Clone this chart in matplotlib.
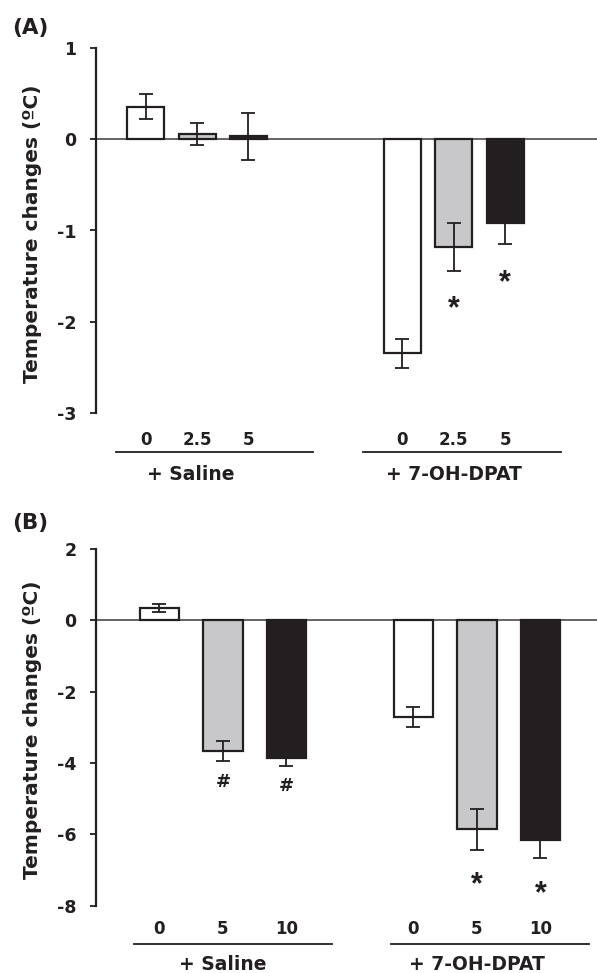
import matplotlib
matplotlib.use('Agg')
import matplotlib.pyplot as plt
from matplotlib import transforms

plt.rcParams['font.family'] = ['DejaVu Sans']
plt.rcParams['font.weight'] = 'bold'
plt.rcParams['axes.unicode_minus'] = False

# ---------------- data ----------------
groups = ['+ Saline', '+ 7-OH-DPAT']

a_pos = [0, 1, 2, 5, 6, 7]
a_labels = ['0', '2.5', '5', '0', '2.5', '5']
a_vals = [0.36, 0.055, 0.035, -2.35, -1.18, -0.92]
a_err = [0.14, 0.12, 0.26, 0.16, 0.26, 0.23]
a_marks = ['', '', '', '', '*', '*']
a_yticks = [1, 0, -1, -2, -3]

b_pos = [0, 1, 2, 4, 5, 6]
b_labels = ['0', '5', '10', '0', '5', '10']
b_vals = [0.35, -3.66, -3.87, -2.72, -5.86, -6.17]
b_err = [0.11, 0.29, 0.21, 0.28, 0.57, 0.50]
b_marks = ['', '#', '#', '', '*', '*']
b_yticks = [2, 0, -2, -4, -6, -8]

colors = ['white', '#c8c8ca', '#231f20'] * 2
ink = '#231f20'

W, H = 597, 973
fig = plt.figure(figsize=(W / 100, H / 100), dpi=100)


def panel(rect, pos, labels, vals, err, marks, yticks, ylim, xlim, width,
          group_lines, group_centers, line_y, label_y, tick_pad, mark_off):
    ax = fig.add_axes(rect)
    ax.bar(pos, vals, width=width, color=colors, edgecolor=ink,
           linewidth=1.6, zorder=2)
    ax.errorbar(pos, vals, yerr=err, fmt='none', ecolor=ink, elinewidth=1.3,
                capsize=5, capthick=1.3, zorder=3)
    ax.axhline(0, color='#3a3a3a', lw=1.1, zorder=1)
    ax.set_xlim(*xlim)
    ax.set_ylim(*ylim)
    for s in ['top', 'right', 'bottom']:
        ax.spines[s].set_visible(False)
    ax.spines['left'].set_linewidth(1.6)
    ax.spines['left'].set_color(ink)
    ax.set_yticks(yticks)
    ax.set_yticklabels([str(t) for t in yticks])
    ax.set_xticks(pos)
    ax.set_xticklabels(labels)
    ax.tick_params(axis='y', direction='out', length=4.5, width=1.3,
                   pad=9.5, labelsize=12.5, colors=ink)
    ax.tick_params(axis='x', length=0, pad=tick_pad, labelsize=12,
                   colors=ink)
    for lab in ax.get_xticklabels():
        lab.set_verticalalignment('baseline')
    for i, m in enumerate(marks):
        if m:
            if m == '*':
                fs, off, fam = 22, mark_off[0], ['Liberation Sans']
            else:
                fs, off, fam = 13, mark_off[1], ['DejaVu Sans']
            ax.annotate(m, xy=(pos[i], vals[i] - err[i]), xytext=(0, -off),
                        textcoords='offset pixels', ha='center', va='baseline',
                        fontsize=fs, color=ink, fontweight='bold',
                        family=fam)
    trans = transforms.blended_transform_factory(ax.transData, ax.transAxes)
    for (x0, x1), xc, g in zip(group_lines, group_centers, groups):
        ax.plot([x0, x1], [line_y, line_y], transform=trans, clip_on=False,
                color=ink, lw=1.3)
        ax.text(xc, label_y, g, transform=trans, ha='center', va='baseline',
                fontsize=13.5, color=ink, fontweight='bold')
    return ax


axA = panel([96 / W, 1 - 412.7 / H, 501 / W, 364.4 / H],
            a_pos, a_labels, a_vals, a_err, a_marks, a_yticks, (-3, 1),
            (-0.97, 8.79), 0.72,
            [(-0.58, 3.26), (4.24, 8.08)], [0.88, 6.0],
            -0.1065, -0.1847, 23.3, (47, 25))

axB = panel([96 / W, 1 - 905.7 / H, 501 / W, 356.7 / H],
            b_pos, b_labels, b_vals, b_err, b_marks, b_yticks, (-8, 2),
            (-1.0, 6.89), 0.62,
            [(-0.40, 2.71), (3.64, 6.77)], [1.0, 5.0],
            -0.1082, -0.180, 20.6, (43.5, 25.5))

for yc in [233.5, 730.0]:
    fig.text(33 / W, 1 - yc / H, 'Temperature changes (ºC)', rotation=90,
             ha='center', va='center', fontsize=14.5, color=ink,
             fontweight='bold')

fig.text(12 / W, 1 - 28 / H, '(A)', ha='left', va='center', fontsize=15.5,
         color=ink, fontweight='bold')
fig.text(12 / W, 1 - 523 / H, '(B)', ha='left', va='center', fontsize=15.5,
         color=ink, fontweight='bold')

fig.savefig('out.png', dpi=100)
